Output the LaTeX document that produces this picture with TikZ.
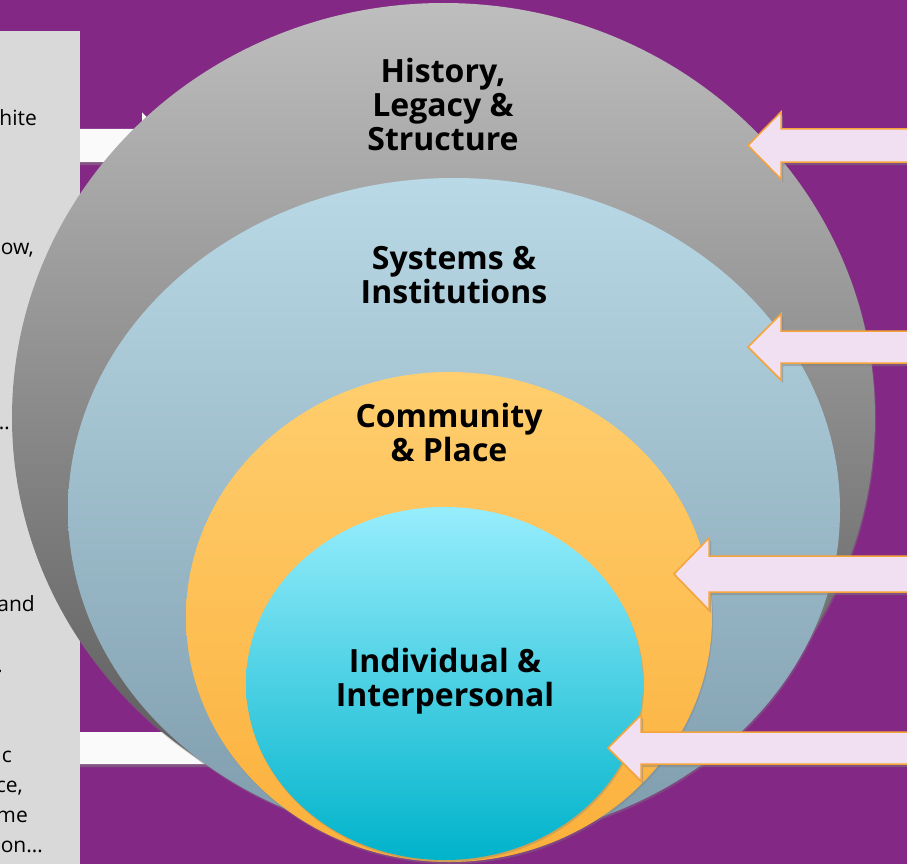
\documentclass[tikz,border=0pt]{standalone}
\usepackage{fontspec}
\setmainfont{Open Sans}
\usepackage{tikz}
\usetikzlibrary{shadows}
\usetikzlibrary{calc}

\definecolor{bgpurple}{HTML}{832985}
\definecolor{panelgray}{HTML}{D9D9D9}
\definecolor{arrowfill}{HTML}{F1E0F1}
\definecolor{arrowline}{HTML}{F5A43B}
\definecolor{histtop}{HTML}{BEBEBE}
\definecolor{histmid}{HTML}{A2A2A2}
\definecolor{histbot}{HTML}{555555}
\definecolor{systop}{HTML}{BAD9E6}
\definecolor{sysbot}{HTML}{7E9CAC}
\definecolor{commtop}{HTML}{FFCE6E}
\definecolor{commbot}{HTML}{FBB03B}
\definecolor{indivtop}{HTML}{97EDFC}
\definecolor{indivmid}{HTML}{4FD0E4}
\definecolor{indivbot}{HTML}{00B3CB}

\tikzstyle{layer}=[drop shadow={opacity=0.35,shadow xshift=1pt,shadow yshift=-2pt}]
\tikzstyle{layertext}=[font=\fontsize{32}{34}\selectfont\bfseries, align=center, text=black]
\tikzstyle{sidetext}=[font=\fontsize{21}{30}\selectfont, anchor=base east, text=black, inner sep=0pt]
\tikzstyle{pinkarrow}=[draw=arrowline, line width=1.5pt, line join=miter, fill=arrowfill, drop shadow={opacity=0.45,shadow xshift=2pt,shadow yshift=-3pt}]
\tikzstyle{whitebar}=[fill=white!98!black, drop shadow={opacity=0.5,shadow xshift=0pt,shadow yshift=-3pt}]

\begin{document}
\begin{tikzpicture}[x=1pt,y=-1pt]

    \useasboundingbox (0,0) rectangle (907,864);
    \clip (0,0) rectangle (907,864);
    \fill[bgpurple] (0,0) rectangle (907,864);

    % side panel with cut-off text
    \fill[panelgray] (0,31) rectangle (80,870);
    \foreach \pos/\name/\label in {{(37,126)/tA/hite}, {(34,254)/tB/ow,}, {(10,429)/tC/\dots}, {(35,611)/tD/and},
                                   {(3,672)/tE/.}, {(12,762)/tF/c}, {(23,792)/tG/ce,}, {(28,822)/tH/me}, {(43,852)/tI/on\dots}}
        \node[sidetext] (\name) at \pos {\label};

    % white arrows behind the circles
    \path[whitebar] (80,129) -- (142,129) -- (142,112.5) -- (175,145.5) -- (142,178.5) -- (142,162) -- (80,162) -- cycle;
    \path[whitebar] (80,732) -- (300,732) -- (300,715) -- (333,748) -- (300,781) -- (300,764) -- (80,764) -- cycle;

    % nested layers
    \shade[layer, top color=histtop, middle color=histmid, bottom color=histbot] (443.5,417.5) ellipse (431.5 and 414.5);
    \shade[layer, top color=systop, bottom color=sysbot] (454,510) ellipse (386 and 332);
    \shade[layer, top color=commtop, bottom color=commbot] (449,617) ellipse (263 and 245);
    \shade[layer, top color=indivtop, middle color=indivmid, bottom color=indivbot] (444.5,683.5) ellipse (198.5 and 176.5);

    \foreach \pos/\name/\label in {{(443,104)/hist/{History,\\Legacy \&\\Structure}}, {(454,275)/sys/{Systems \&\\Institutions}},
                                   {(449,432)/comm/{Community\\\& Place}}, {(445,681)/indiv/{Individual \&\\Interpersonal}}}
        \node[layertext] (\name) at \pos {\label};

    % arrows pointing at each layer
    \foreach \tx/\ty/\hb/\hh/\sh in {748/145.5/781/33.5/16.5, 748/347/781/33/16, 674/574/709/36/18, 608/748/641/33/16}
        \draw[pinkarrow] (\tx,\ty) -- (\hb,\ty-\hh) -- (\hb,\ty-\sh) -- (920,\ty-\sh) -- (920,\ty+\sh) -- (\hb,\ty+\sh) -- (\hb,\ty+\hh) -- cycle;

\end{tikzpicture}
\end{document}
